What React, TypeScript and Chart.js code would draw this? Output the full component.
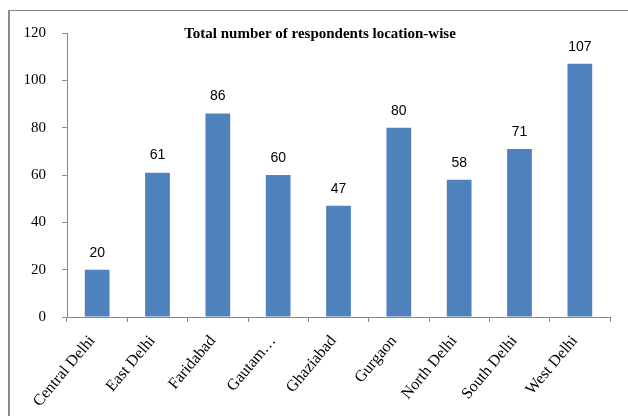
import React, { useEffect, useRef } from "react";
import { Chart, registerables } from "chart.js";

Chart.register(...registerables);

const categories = [
  "Central Delhi",
  "East Delhi",
  "Faridabad",
  "Gautam…",
  "Ghaziabad",
  "Gurgaon",
  "North Delhi",
  "South Delhi",
  "West Delhi",
];
const respondents = [20, 61, 86, 60, 47, 80, 58, 71, 107];
const titleText = "Total number of respondents location-wise";

const frameAndLabels = {
  id: "frameAndLabels",
  afterDraw(chart: any) {
    const ctx = chart.ctx;
    ctx.save();
    // outer frame
    ctx.strokeStyle = "#8a8a8a";
    ctx.lineWidth = 1;
    ctx.beginPath();
    ctx.moveTo(8, 10.5);
    ctx.lineTo(628, 10.5);
    ctx.stroke();
    ctx.lineWidth = 2;
    ctx.beginPath();
    ctx.moveTo(9, 10);
    ctx.lineTo(9, 416);
    ctx.stroke();
    // title
    ctx.fillStyle = "#000";
    ctx.font = "bold 15px 'Liberation Serif', 'Times New Roman', serif";
    ctx.textAlign = "center";
    ctx.textBaseline = "middle";
    ctx.fillText(titleText, 320, 34);
    // value labels
    const meta = chart.getDatasetMeta(0);
    ctx.font = "14px 'Liberation Sans', Arial, sans-serif";
    ctx.textBaseline = "bottom";
    meta.data.forEach((bar: any, i: number) => {
      const v = chart.data.datasets[0].data[i];
      ctx.fillText(String(v), bar.x, bar.y - 10);
    });
    ctx.restore();
  },
};

export default function App() {
  const ref = useRef<HTMLCanvasElement | null>(null);
  useEffect(() => {
    if (!ref.current) return;
    const chart = new Chart(ref.current, {
      type: "bar",
      data: {
        labels: categories,
        datasets: [
          {
            data: respondents,
            backgroundColor: "#4F81BD",
            barPercentage: 0.41,
            categoryPercentage: 1,
          },
        ],
      },
      options: {
        responsive: false,
        animation: false,
        devicePixelRatio: 1,
        layout: { padding: { left: 8, top: 33, right: 18, bottom: 0 } },
        plugins: {
          legend: { display: false },
          title: { display: false },
          tooltip: { enabled: false },
        },
        scales: {
          x: {
            grid: {
              display: true,
              drawOnChartArea: false,
              drawTicks: true,
              tickLength: 5,
              color: "#8a8a8a",
              offset: true,
            },
            border: { display: true, color: "#8a8a8a" },
            ticks: {
              color: "#000",
              font: { family: "'Liberation Serif', 'Times New Roman', serif", size: 16 },
              minRotation: 50,
              maxRotation: 50,
              autoSkip: false,
              padding: 10,
              labelOffset: -5,
            },
            afterFit: (s: any) => {
              s.height = 99;
            },
          },
          y: {
            min: 0,
            max: 120,
            ticks: {
              stepSize: 20,
              color: "#000",
              font: { family: "'Liberation Serif', 'Times New Roman', serif", size: 15 },
              padding: 16,
            },
            grid: {
              display: true,
              drawOnChartArea: false,
              drawTicks: true,
              tickLength: 5,
              color: "#8a8a8a",
            },
            border: { display: true, color: "#8a8a8a" },
            afterFit: (s: any) => {
              s.width = 59;
            },
          },
        },
      },
      plugins: [frameAndLabels],
    });
    return () => chart.destroy();
  }, []);
  return (
    <div style={{ position: "absolute", left: 0, top: 0, width: 628, height: 416, background: "#fff" }}>
      <canvas ref={ref} width={628} height={416} />
    </div>
  );
}
